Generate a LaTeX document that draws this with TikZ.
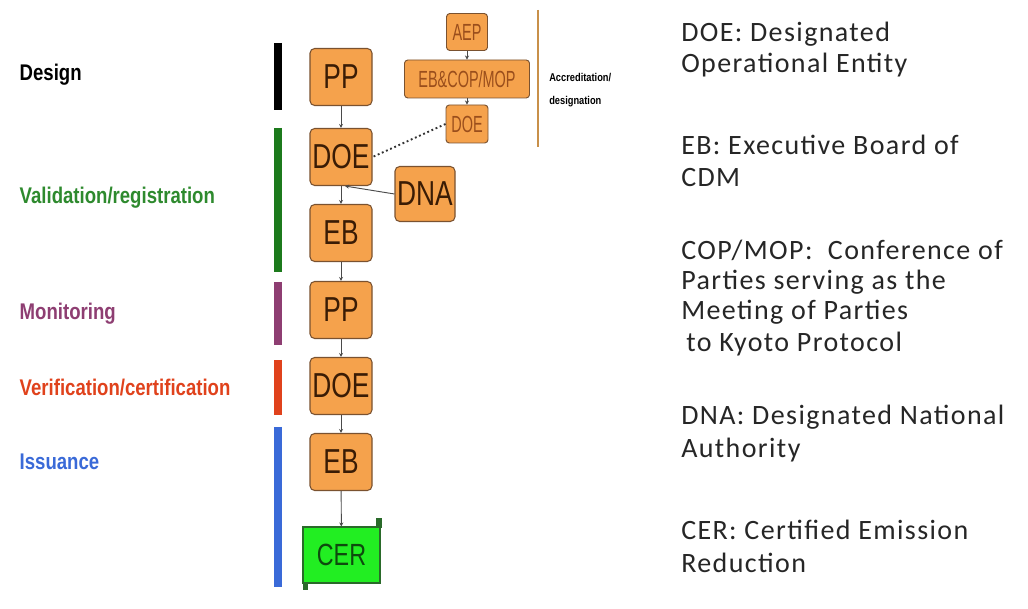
\documentclass[tikz,border=0pt]{standalone}
\usepackage{fontspec}
\usetikzlibrary{arrows.meta}
\newfontfamily\lblfont[FakeStretch=0.82]{Liberation Sans}
\newfontfamily\boxfont[FakeStretch=0.76]{Liberation Sans}
\newfontfamily\smlfont[FakeStretch=0.62]{Liberation Sans}
\newfontfamily\rtfont[LetterSpace=5]{Carlito}
\definecolor{boxfill}{HTML}{F5A24C}
\definecolor{boxdraw}{HTML}{7A5230}
\definecolor{boxtext}{HTML}{3A1C05}
\definecolor{smltext}{HTML}{9A4E1C}
\definecolor{lgreen}{HTML}{2E8A2E}
\definecolor{bgreen}{HTML}{1C7A1C}
\definecolor{lpurple}{HTML}{8E3E72}
\definecolor{lred}{HTML}{E0421C}
\definecolor{lblue}{HTML}{3A6AD8}
\definecolor{accline}{HTML}{C8904A}
\definecolor{cerfill}{HTML}{22EE22}
\definecolor{cerdraw}{HTML}{2A6A2A}
\definecolor{certext}{HTML}{0E4A0E}
\definecolor{conn}{HTML}{4A4A4A}
\definecolor{rtext}{HTML}{262626}
\tikzset{
  mainbox/.style={draw=boxdraw, line width=0.8pt, fill=boxfill, rounded corners=3.5pt,
    minimum width=46.5pt, minimum height=42.75pt, inner sep=0pt,
    font=\boxfont\fontsize{26pt}{28pt}\selectfont, text=boxtext},
  smlbox/.style={draw=boxdraw, line width=0.7pt, fill=boxfill, rounded corners=2.5pt,
    minimum height=28.5pt, inner sep=0pt,
    font=\smlfont\fontsize{17.5pt}{18pt}\selectfont, text=smltext},
  stagelbl/.style={anchor=west, font=\lblfont\bfseries\fontsize{17pt}{19pt}\selectfont},
  stagebar/.style={line width=6pt},
  flow/.style={draw=conn, line width=0.7pt, -{Stealth[length=3pt,width=3pt]}},
  rt/.style={anchor=base west, inner sep=0pt, text=rtext, font=\rtfont\fontsize{21pt}{24pt}\selectfont},
}
\begin{document}
\begin{tikzpicture}[x=0.75pt,y=-0.75pt]
\useasboundingbox[fill=white] (0,0) rectangle (1028,609);

% stage labels
\node[stagelbl, text=black] (lDesign) at (15,75) {Design};
\node[stagelbl, text=lgreen] (lVal) at (15,198) {Validation/registration};
\node[stagelbl, text=lpurple] (lMon) at (15,314) {Monitoring};
\node[stagelbl, text=lred] (lVer) at (15,388) {Verification/certification};
\node[stagelbl, text=lblue] (lIss) at (15,462) {Issuance};

% stage bars
\draw[stagebar, black] (278,43) -- (278,110);
\draw[stagebar, bgreen] (278,128) -- (278,272);
\draw[stagebar, lpurple] (278,282) -- (278,345);
\draw[stagebar, lred] (278,360) -- (278,415);
\draw[stagebar, lblue] (278,427) -- (278,587);

% main chain
\node[mainbox] (PPa) at (341,77) {PP};
\node[mainbox] (DOEa) at (341,157) {DOE};
\node[mainbox] (EBa) at (341,233) {EB};
\node[mainbox] (PPb) at (341,310) {PP};
\node[mainbox] (DOEb) at (341,386) {DOE};
\node[mainbox] (EBb) at (341,462) {EB};
\node[mainbox, minimum width=45pt, minimum height=41.25pt] (DNA) at (425,194) {DNA};

% CER scroll
\fill[cerdraw] (376,518) rectangle (382,528);
\fill[cerdraw] (303,580) rectangle (308,590);
\node[draw=cerdraw, line width=0.8pt, fill=cerfill, minimum width=57.75pt, minimum height=42pt,
  inner sep=0pt, font=\boxfont\fontsize{23pt}{25pt}\selectfont, text=certext] (CER) at (341.5,555) {CER};

% accreditation group
\node[smlbox, minimum width=30.75pt, minimum height=27.75pt] (AEP) at (467,32) {AEP};
\node[smlbox, minimum width=93.75pt] (EBCOP) at (467,79) {EB\&COP/MOP};
\node[smlbox, minimum width=31.5pt] (DOEs) at (467,124) {DOE};
\coordinate (accT) at (538,10);
\coordinate (accB) at (538,147);
\draw[accline, line width=1.5pt] (accT) -- (accB);
\node[anchor=west, align=left, inner sep=0pt, font=\lblfont\bfseries\fontsize{8.5pt}{17pt}\selectfont] (acc) at (549,90) {Accreditation/\\designation};

% connectors
\draw[flow] (PPa) -- (DOEa);
\draw[flow] (DOEa) -- (EBa);
\draw[flow] (EBa) -- (PPb);
\draw[flow] (PPb) -- (DOEb);
\draw[flow] (DOEb) -- (EBb);
\draw[flow] (EBb) -- (CER);
\draw[flow] (DNA.west) -- ([xshift=3pt]DOEa.south);
\draw[flow] (AEP) -- (EBCOP);
\draw[flow] (EBCOP) -- (DOEs);
\draw[black!80, line width=1.4pt, dotted] (DOEs.west) -- (DOEa.east);

% right legend
\node[rt] (t1) at (681,42) {DOE: Designated};
\node[rt] (t2) at (681,73) {Operational Entity};
\node[rt] (t3) at (681,155) {EB: Executive Board of};
\node[rt] (t4) at (681,187) {CDM};
\node[rt] (t5) at (681,260) {COP/MOP:\ \ Conference of};
\node[rt] (t6) at (681,290) {Parties serving as the};
\node[rt] (t7) at (681,320) {Meeting of Parties};
\node[rt] (t8) at (686,352) {to Kyoto Protocol};
\node[rt] (t9) at (681,425) {DNA: Designated National};
\node[rt] (t10) at (681,457) {Authority};
\node[rt] (t11) at (681,539) {CER: Certified Emission};
\node[rt] (t12) at (681,572) {Reduction};
\end{tikzpicture}
\end{document}
